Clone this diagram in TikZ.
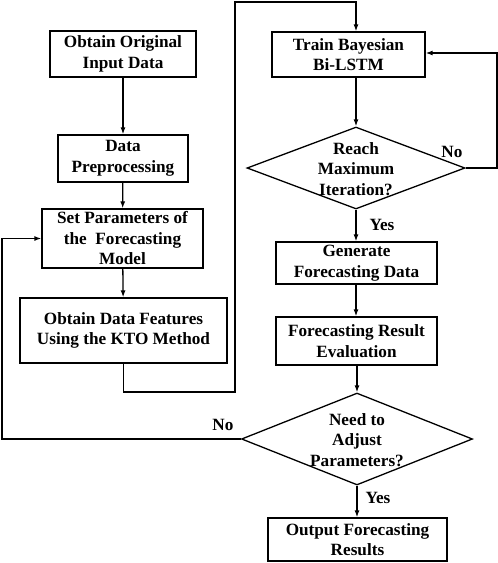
\documentclass[tikz,border=0pt]{standalone}
\usepackage{fontspec}
\setmainfont{Liberation Serif}
\usetikzlibrary{shapes.geometric,arrows.meta}
\begin{document}
\begin{tikzpicture}[x=1pt,y=-1pt,
  every node/.style={font=\fontsize{17.2}{20.5}\selectfont\bfseries},
  box/.style={draw,line width=1.3pt,inner sep=0pt,align=center},
  dia/.style={draw,diamond,line width=1.3pt,inner sep=0pt,align=center},
  arr/.style={line width=1.3pt,-{Latex[length=7pt,width=5pt]}},
  ln/.style={line width=1.3pt},
  lbl/.style={inner sep=0pt}]
\useasboundingbox (0,0) rectangle (498,563);
\node[box,minimum width=146,minimum height=46] (b1) at (123,54) {Obtain Original\\Input Data};
\node[box,minimum width=130,minimum height=47] (b2) at (123,158.5) {Data\\Preprocessing};
\node[box,minimum width=161,minimum height=59] (b3) at (122.5,238.5) {Set Parameters of\\the\ \ Forecasting\\Model};
\node[box,minimum width=207,minimum height=65] (b4) at (123.5,330.5) {Obtain Data Features\\Using the KTO Method};
\node[box,minimum width=153,minimum height=45] (tr) at (348.5,54.5) {Train Bayesian\\Bi-LSTM};
\node[dia,minimum width=218,minimum height=82] (d1) at (356,168) {};
\node[lbl,align=center] (d1t) at (356,169) {Reach\\Maximum\\Iteration?};
\node[box,minimum width=161,minimum height=42] (gen) at (356.5,263) {Generate\\Forecasting Data};
\node[box,minimum width=161,minimum height=48] (ev) at (356.5,341) {Forecasting Result\\Evaluation};
\node[dia,minimum width=231,minimum height=92] (d2) at (357,439) {};
\node[lbl,align=center] (d2t) at (357,440) {Need to\\Adjust\\Parameters?};
\node[box,minimum width=179,minimum height=43] (out) at (357.5,539.5) {Output Forecasting\\Results};
\coordinate (c1) at (235,392);
\coordinate (c2) at (235,2);
\coordinate (c3) at (497,53);
\coordinate (c4) at (2,439);
\draw[arr] (b1) -- (b2);
\draw[arr] (b2) -- (b3);
\draw[arr] (b3) -- (b4);
\draw[arr] (b4.south) -- (b4.south |- c1) -- (c1) -- (c2) -- (c2 -| d1.north) -- (d1.north |- tr.north);
\draw[arr] (d1.north |- tr.south) -- (d1.north);
\draw[arr] (d1.east) -- (d1.east -| c3) -- (c3) -- (c3 -| tr.east);
\draw[arr] (d1.south) -- (d1.south |- gen.north);
\draw[arr] (gen.south -| d1.south) -- (ev.north -| d1.south);
\draw[arr] (ev.south -| d2.north) -- (d2.north);
\draw[arr] (d2.south) -- (d2.south |- out.north);
\draw[arr] (d2.west) -- (c4) -- (c4 |- b3.west) -- (b3.west);
\node[lbl] (no1) at (452,152) {No};
\node[lbl] (yes1) at (382,225) {Yes};
\node[lbl] (no2) at (223,425) {No};
\node[lbl] (yes2) at (378,498) {Yes};
\end{tikzpicture}
\end{document}
